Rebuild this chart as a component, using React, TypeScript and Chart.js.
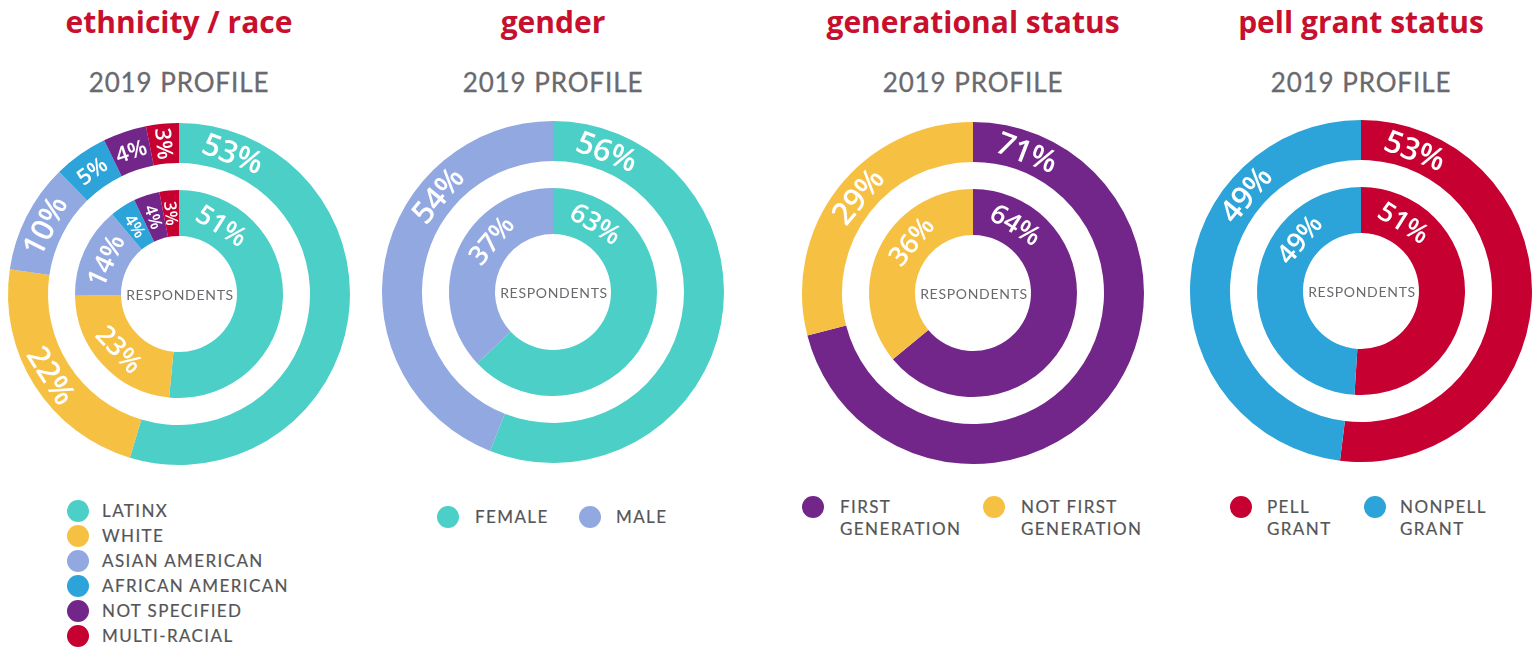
import React, { useEffect, useRef } from "react";
import { Chart, registerables } from "chart.js";

Chart.register(...registerables);

// ---------- DATA ----------
const ethnicityCategories = ["LATINX", "WHITE", "ASIAN AMERICAN", "AFRICAN AMERICAN", "NOT SPECIFIED", "MULTI-RACIAL"];
const ethnicityProfile2019 = [53, 22, 10, 5, 4, 3];
const ethnicityRespondents = [51, 23, 14, 4, 4, 3];

const genderCategories = ["FEMALE", "MALE"];
const genderProfile2019 = [56, 44]; // arc as drawn in the picture
const genderProfile2019Text = ["56%", "54%"]; // label as printed in the picture
const genderRespondents = [63, 37];

const generationCategories = ["FIRST GENERATION", "NOT FIRST GENERATION"];
const generationProfile2019 = [71, 29];
const generationRespondents = [64, 36];

const pellCategories = ["PELL GRANT", "NONPELL GRANT"];
const pellProfile2019 = [53, 49];
const pellRespondents = [51, 49];

const panelTitles = ["ethnicity / race", "gender", "generational status", "pell grant status"];
const outerRingTitle = "2019 PROFILE";
const innerRingTitle = "RESPONDENTS";

// ---------- STYLE ----------
const TEAL = "#4BCFC7";
const YELLOW = "#F6C143";
const LAVENDER = "#91A8E0";
const BLUE = "#2CA4D9";
const PURPLE = "#732689";
const RED = "#C70032";
const TITLE_RED = "#C8102E";
const GRAY = "#6A696D";
const LEGEND_GRAY = "#555557";

const pct = (arr: number[]) => arr.map((v) => `${v}%`);

type Panel = {
  cx: number;
  cy: number;
  colors: string[];
  categories: string[];
  outer: number[];
  outerText: string[];
  inner: number[];
  innerText: string[];
  legend: { x: number; y: number; textX: number; width?: number }[];
};

const panels: Panel[] = [
  {
    cx: 179, cy: 294,
    colors: [TEAL, YELLOW, LAVENDER, BLUE, PURPLE, RED],
    categories: ethnicityCategories,
    outer: ethnicityProfile2019, outerText: pct(ethnicityProfile2019),
    inner: ethnicityRespondents, innerText: pct(ethnicityRespondents),
    legend: ethnicityCategories.map((_, i) => ({ x: 78, y: 511 + i * 25, textX: 102 })),
  },
  {
    cx: 553, cy: 292,
    colors: [TEAL, LAVENDER],
    categories: genderCategories,
    outer: genderProfile2019, outerText: genderProfile2019Text,
    inner: genderRespondents, innerText: pct(genderRespondents),
    legend: [
      { x: 448, y: 517, textX: 475 },
      { x: 590, y: 517, textX: 616 },
    ],
  },
  {
    cx: 973, cy: 293,
    colors: [PURPLE, YELLOW],
    categories: generationCategories,
    outer: generationProfile2019, outerText: pct(generationProfile2019),
    inner: generationRespondents, innerText: pct(generationRespondents),
    legend: [
      { x: 813, y: 507, textX: 840, width: 130 },
      { x: 994, y: 507, textX: 1021, width: 130 },
    ],
  },
  {
    cx: 1361, cy: 291,
    colors: [RED, BLUE],
    categories: pellCategories,
    outer: pellProfile2019, outerText: pct(pellProfile2019),
    inner: pellRespondents, innerText: pct(pellRespondents),
    legend: [
      { x: 1241, y: 507, textX: 1267, width: 90 },
      { x: 1375, y: 507, textX: 1400, width: 95 },
    ],
  },
];

const CANVAS = 360;
const OUTER_R = 171;
const HOLE_R = 58;

const LABEL_FONT = '"Open Sans", "DejaVu Sans", sans-serif';

const ringLabelPlugin = {
  id: "ringLabels",
  afterDatasetsDraw(chart: any) {
    const ctx = chart.ctx as CanvasRenderingContext2D;
    chart.data.datasets.forEach((ds: any, di: number) => {
      const texts: string[] | undefined = ds.labelTexts;
      if (!texts) return;
      const isOuter = ds.ring === "outer";
      const meta = chart.getDatasetMeta(di);
      meta.data.forEach((arc: any, i: number) => {
        const p = arc.getProps(["x", "y", "startAngle", "endAngle", "innerRadius", "outerRadius"], true);
        const r = (p.innerRadius + p.outerRadius) / 2;
        const s = ((p.startAngle + Math.PI / 2) * 180) / Math.PI;
        const e = ((p.endAngle + Math.PI / 2) * 180) / Math.PI;
        const span = e - s;
        let theta = (s + e) / 2;
        if (span >= 100) {
          if (s < 1) theta = s + (isOuter ? 21 : 32);
          else if (e > 359) theta = e - 50;
        }
        const value = ds.data[i];
        const size = value >= 10 ? (isOuter ? 31 : 27) : isOuter ? 22 : 17;
        ctx.save();
        ctx.font = `600 ${size}px ${LABEL_FONT}`;
        const w = ctx.measureText(texts[i]).width;
        const arcLen = (r * span * Math.PI) / 180;
        const radial = w > arcLen * 0.95;
        let rot: number;
        if (radial) rot = theta + 90;
        else rot = theta > 90 && theta < 270 ? theta - 180 : theta;
        const a = ((theta - 90) * Math.PI) / 180;
        ctx.translate(p.x + r * Math.cos(a), p.y + r * Math.sin(a));
        ctx.rotate((rot * Math.PI) / 180);
        ctx.textAlign = "center";
        ctx.textBaseline = "alphabetic";
        ctx.fillStyle = "#FFFFFF";
        ctx.fillText(texts[i], 0, size * 0.36);
        ctx.restore();
      });
    });
  },
};

const centerTextPlugin = {
  id: "centerText",
  afterDraw(chart: any) {
    const ctx = chart.ctx as CanvasRenderingContext2D;
    const arc = chart.getDatasetMeta(0).data[0];
    if (!arc) return;
    ctx.save();
    ctx.font = '14px Lato, "DejaVu Sans", sans-serif';
    (ctx as any).letterSpacing = "0.7px";
    ctx.fillStyle = GRAY;
    ctx.textAlign = "center";
    ctx.textBaseline = "middle";
    ctx.fillText(innerRingTitle, arc.x + 1, arc.y + 1);
    ctx.restore();
  },
};

function DonutPanel({ panel }: { panel: Panel }) {
  const ref = useRef<HTMLCanvasElement | null>(null);
  useEffect(() => {
    if (!ref.current) return;
    const chart = new Chart(ref.current, {
      type: "doughnut",
      data: {
        labels: panel.categories,
        datasets: [
          {
            data: panel.outer,
            backgroundColor: panel.colors,
            borderWidth: 0,
            weight: 40,
            ring: "outer",
            labelTexts: panel.outerText,
          } as any,
          {
            data: [1],
            backgroundColor: ["rgba(0,0,0,0)"],
            borderWidth: 0,
            weight: 27,
          } as any,
          {
            data: panel.inner,
            backgroundColor: panel.colors,
            borderWidth: 0,
            weight: 46,
            ring: "inner",
            labelTexts: panel.innerText,
          } as any,
        ],
      },
      options: {
        animation: false,
        responsive: false,
        maintainAspectRatio: false,
        radius: OUTER_R,
        cutout: `${(HOLE_R / OUTER_R) * 100}%`,
        layout: { padding: 0 },
        plugins: { legend: { display: false }, tooltip: { enabled: false } },
        events: [],
      } as any,
      plugins: [ringLabelPlugin, centerTextPlugin],
    });
    return () => chart.destroy();
  }, [panel]);
  return (
    <canvas
      ref={ref}
      width={CANVAS}
      height={CANVAS}
      style={{ position: "absolute", left: panel.cx - CANVAS / 2, top: panel.cy - CANVAS / 2, width: CANVAS, height: CANVAS }}
    />
  );
}

export default function App() {
  return (
    <div
      style={{
        position: "absolute",
        left: 0,
        top: 0,
        width: 1540,
        height: 649,
        background: "#FFFFFF",
        overflow: "hidden",
      }}
    >
      {panels.map((panel, pi) => (
        <React.Fragment key={pi}>
          <div
            style={{
              position: "absolute",
              left: panel.cx - 200,
              width: 400,
              top: 7,
              textAlign: "center",
              font: '700 30px "Open Sans", sans-serif',
              lineHeight: "30px",
              color: TITLE_RED,
              whiteSpace: "nowrap",
            }}
          >
            {panelTitles[pi]}
          </div>
          <div
            style={{
              position: "absolute",
              left: panel.cx - 200,
              width: 400,
              top: 68,
              textAlign: "center",
              font: "400 26px Lato, sans-serif",
              lineHeight: "28px",
              letterSpacing: "0.9px",
              color: GRAY,
              whiteSpace: "nowrap",
              WebkitTextStroke: "0.3px " + GRAY,
            }}
          >
            {outerRingTitle}
          </div>
          <DonutPanel panel={panel} />
          {panel.legend.map((lg, li) => (
            <React.Fragment key={li}>
              <div
                style={{
                  position: "absolute",
                  left: lg.x - 11,
                  top: lg.y - 11,
                  width: 22,
                  height: 22,
                  borderRadius: "50%",
                  background: panel.colors[li],
                }}
              />
              <div
                style={{
                  position: "absolute",
                  left: lg.textX,
                  top: lg.y - 11,
                  width: lg.width ?? 300,
                  font: "400 17px Lato, sans-serif",
                  lineHeight: "22px",
                  letterSpacing: "1.4px",
                  color: LEGEND_GRAY,
                  whiteSpace: lg.width ? "normal" : "nowrap",
                  WebkitTextStroke: "0.2px " + LEGEND_GRAY,
                }}
              >
                {panel.categories[li]}
              </div>
            </React.Fragment>
          ))}
        </React.Fragment>
      ))}
    </div>
  );
}
